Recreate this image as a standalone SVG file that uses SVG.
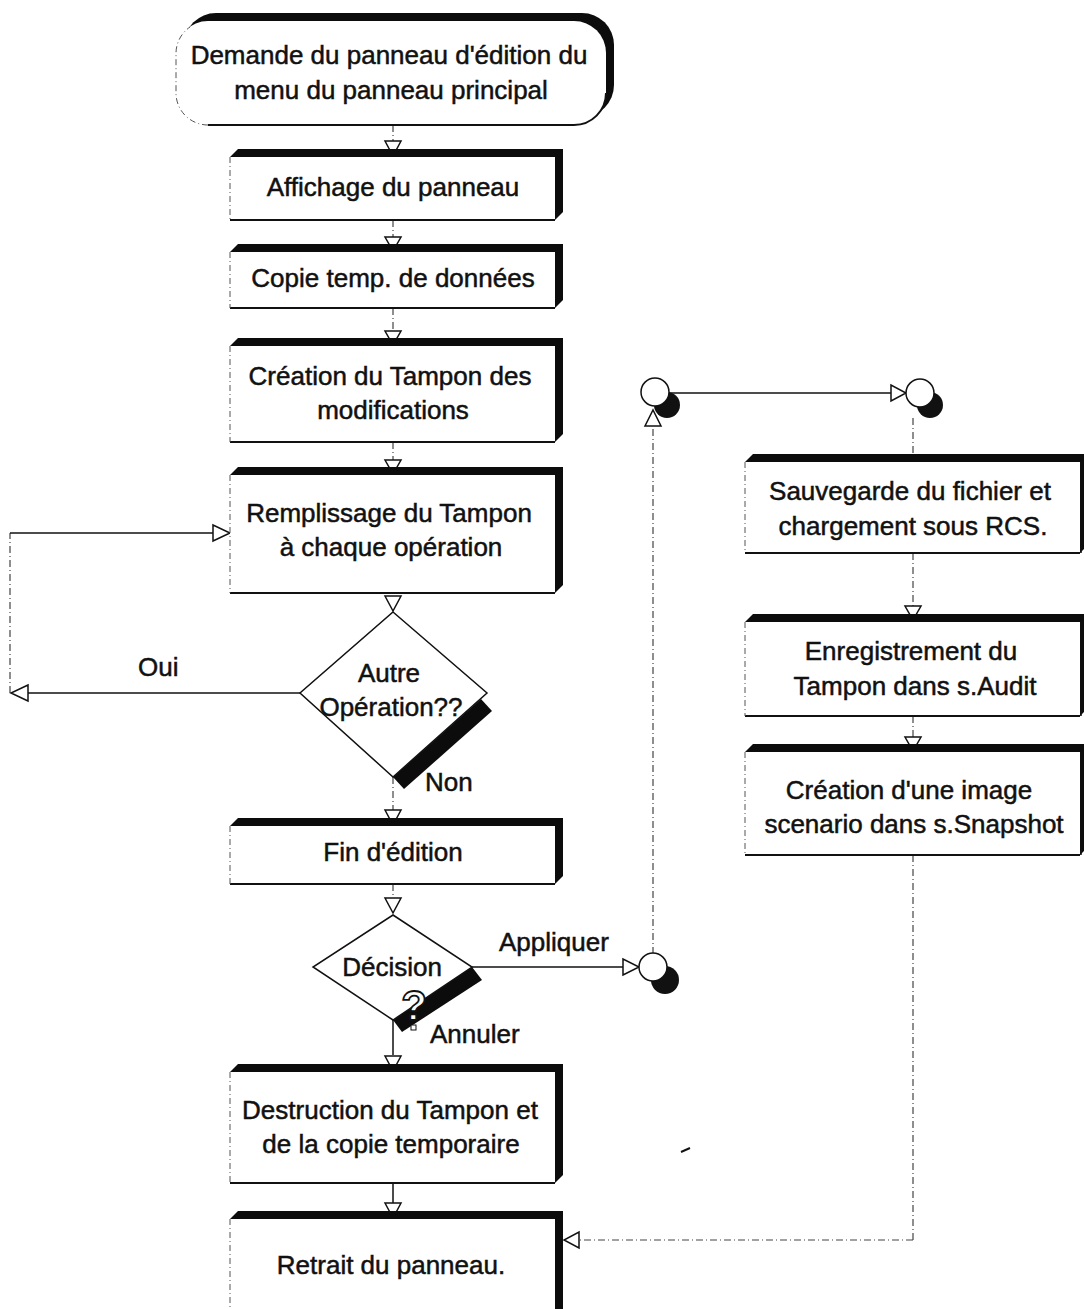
<svg xmlns="http://www.w3.org/2000/svg" width="1084" height="1309" viewBox="0 0 1084 1309">
<style>
.t{font-family:"Liberation Sans",Arial,sans-serif;font-size:26px;fill:#111;stroke:#111;stroke-width:0.5;text-anchor:middle}
.tl{font-family:"Liberation Sans",Arial,sans-serif;font-size:26px;fill:#111;stroke:#111;stroke-width:0.5}
.ext{fill:#0c0c0c}
.face{fill:#fff}
.bot{stroke:#111;stroke-width:2;fill:none}
.lft{stroke:#555;stroke-width:1;stroke-dasharray:6 3 1 3;fill:none}
.dash{stroke:#444;stroke-width:1.2;stroke-dasharray:7 3 1 3;fill:none}
.solid{stroke:#111;stroke-width:1.5;fill:none}
.ah{fill:#fff;stroke:#111;stroke-width:1.5;stroke-linejoin:miter}
</style>
<rect width="1084" height="1309" fill="#fff"/>

<g id="connectors">
  <line class="dash" x1="393" y1="125" x2="393" y2="142"/>
  <line class="dash" x1="393" y1="220" x2="393" y2="238"/>
  <line class="dash" x1="393" y1="308" x2="393" y2="332"/>
  <line class="dash" x1="393" y1="442" x2="393" y2="461"/>
  <line class="dash" x1="393" y1="777" x2="393" y2="810"/>
  <line class="dash" x1="393" y1="884" x2="393" y2="899"/>
  <line class="solid" x1="393" y1="1020" x2="393" y2="1055"/>
  <line class="solid" x1="393" y1="1183" x2="393" y2="1203"/>
  <line class="solid" x1="300" y1="693" x2="26" y2="693"/>
  <line class="dash" x1="10" y1="693" x2="10" y2="533"/>
  <line class="solid" x1="10" y1="533" x2="214" y2="533"/>
  <line class="solid" x1="472" y1="967" x2="624" y2="967"/>
  <line class="dash" x1="653" y1="954" x2="653" y2="426"/>
  <line class="solid" x1="669" y1="393" x2="892" y2="393"/>
  <line class="dash" x1="913" y1="418" x2="913" y2="455"/>
  <line class="dash" x1="913" y1="553" x2="913" y2="606"/>
  <line class="dash" x1="913" y1="716" x2="913" y2="737"/>
  <line class="dash" x1="913" y1="855" x2="913" y2="1240"/>
  <line class="dash" x1="913" y1="1240" x2="578" y2="1240"/>
  <polygon class="ah" points="385,141 401,141 393,156"/>
  <polygon class="ah" points="385,237 401,237 393,251"/>
  <polygon class="ah" points="385,331 401,331 393,345"/>
  <polygon class="ah" points="385,460 401,460 393,474"/>
  <polygon class="ah" points="385,596 401,596 393,611"/>
  <polygon class="ah" points="385,810 401,810 393,825"/>
  <polygon class="ah" points="385,898 401,898 393,913"/>
  <polygon class="ah" points="385,1056 401,1056 393,1071"/>
  <polygon class="ah" points="385,1203 401,1203 393,1218"/>
  <polygon class="ah" points="28,685 28,701 11,693"/>
  <polygon class="ah" points="213,525 213,541 230,533"/>
  <polygon class="ah" points="623,959 623,975 639,967"/>
  <polygon class="ah" points="645,426 661,426 653,410"/>
  <polygon class="ah" points="891,385 891,401 906,393"/>
  <polygon class="ah" points="892,455 892,470 912,462"/>
  <polygon class="ah" points="905,606 921,606 913,620"/>
  <polygon class="ah" points="905,737 921,737 913,751"/>
  <polygon class="ah" points="579,1232 579,1248 564,1240"/>
</g>

<g id="n-start">
  <rect x="184" y="13" width="430" height="104" rx="32" ry="32" class="ext"/>
  <rect x="176" y="21" width="430" height="104" rx="32" ry="32" class="face"/>
  <path d="M208 125 H574 A32 32 0 0 0 606 93" class="bot"/>
  <path d="M208 125 A32 32 0 0 1 176 93 V53 A32 32 0 0 1 190 27" class="lft"/>
  <text class="t" x="389" y="64">Demande du panneau d'édition du</text>
  <text class="t" x="391" y="99">menu du panneau principal</text>
</g>

<g id="n-affichage">
  <polygon class="ext" points="230,157 238,149 563,149 563,212 555,220 555,157"/>
  <rect class="face" x="230" y="157" width="325" height="63"/>
  <line class="bot" x1="230" y1="220" x2="555" y2="220"/>
  <line class="lft" x1="230" y1="157" x2="230" y2="220"/>
  <text class="t" x="393" y="196">Affichage du panneau</text>
</g>

<g id="n-copie">
  <polygon class="ext" points="230,252 238,244 563,244 563,300 555,308 555,252"/>
  <rect class="face" x="230" y="252" width="325" height="56"/>
  <line class="bot" x1="230" y1="308" x2="555" y2="308"/>
  <line class="lft" x1="230" y1="252" x2="230" y2="308"/>
  <text class="t" x="393" y="287">Copie temp. de données</text>
</g>

<g id="n-creation">
  <polygon class="ext" points="230,346 238,338 563,338 563,434 555,442 555,346"/>
  <rect class="face" x="230" y="346" width="325" height="96"/>
  <line class="bot" x1="230" y1="442" x2="555" y2="442"/>
  <line class="lft" x1="230" y1="346" x2="230" y2="442"/>
  <text class="t" x="390" y="385">Création du Tampon des</text>
  <text class="t" x="393" y="419">modifications</text>
</g>

<g id="n-remplissage">
  <polygon class="ext" points="230,475 238,467 563,467 563,585 555,593 555,475"/>
  <rect class="face" x="230" y="475" width="325" height="118"/>
  <line class="bot" x1="230" y1="593" x2="555" y2="593"/>
  <line class="lft" x1="230" y1="475" x2="230" y2="593"/>
  <text class="t" x="389" y="522">Remplissage du Tampon</text>
  <text class="t" x="391" y="556">à chaque opération</text>
</g>

<g id="n-autre">
  <polygon class="ext" points="481,699 492,711 404,789 393,777"/>
  <polygon points="393,612 487,693 393,777 300,693" fill="#fff" stroke="#111" stroke-width="1.5"/>
  <text class="t" x="389" y="682">Autre</text>
  <text class="t" x="391" y="716">Opération??</text>
  <text class="tl" x="138" y="676">Oui</text>
  <text class="tl" x="425" y="791">Non</text>
</g>

<g id="n-fin">
  <polygon class="ext" points="230,826 238,818 563,818 563,876 555,884 555,826"/>
  <rect class="face" x="230" y="826" width="325" height="58"/>
  <line class="bot" x1="230" y1="884" x2="555" y2="884"/>
  <line class="lft" x1="230" y1="826" x2="230" y2="884"/>
  <text class="t" x="393" y="861">Fin d'édition</text>
</g>

<g id="n-decision">
  <polygon class="ext" points="472,967 482,980 402,1032 393,1020"/>
  <polygon points="393,915 472,967 393,1020 313,967" fill="#fff" stroke="#111" stroke-width="1.5"/>
  <text class="t" x="392" y="976">Décision</text>
  <text x="414" y="1020" font-family="Liberation Sans,Arial,sans-serif" font-size="42" font-weight="bold" fill="#fff" stroke="#111" stroke-width="1.8" text-anchor="middle">?</text>
  <rect x="411" y="1025" width="5" height="5" fill="#fff" stroke="#111" stroke-width="1"/>
  <text class="tl" x="499" y="951">Appliquer</text>
  <text class="tl" x="430" y="1043">Annuler</text>
</g>

<g id="n-circle-a">
  <circle cx="665" cy="980" r="14" fill="#111"/>
  <circle cx="653" cy="967" r="14" fill="#fff" stroke="#111" stroke-width="1.5"/>
</g>
<g id="n-circle-b">
  <circle cx="667" cy="405" r="13" fill="#111"/>
  <circle cx="655" cy="392" r="14" fill="#fff" stroke="#111" stroke-width="1.5"/>
</g>
<g id="n-circle-c">
  <circle cx="930" cy="405" r="13" fill="#111"/>
  <circle cx="920" cy="393" r="14" fill="#fff" stroke="#111" stroke-width="1.5"/>
</g>

<g id="n-sauvegarde">
  <polygon class="ext" points="745,462 753,454 1088,454 1088,545 1080,553 1080,462"/>
  <rect class="face" x="745" y="462" width="335" height="91"/>
  <line class="bot" x1="745" y1="553" x2="1080" y2="553"/>
  <line class="lft" x1="745" y1="462" x2="745" y2="553"/>
  <line x1="1081" y1="462" x2="1081" y2="553" stroke="#111" stroke-width="1.5"/>
  <text class="t" x="910" y="500">Sauvegarde du fichier et</text>
  <text class="t" x="913" y="535">chargement sous RCS.</text>
</g>

<g id="n-enregistrement">
  <polygon class="ext" points="745,622 753,614 1088,614 1088,708 1080,716 1080,622"/>
  <rect class="face" x="745" y="622" width="335" height="94"/>
  <line class="bot" x1="745" y1="716" x2="1080" y2="716"/>
  <line class="lft" x1="745" y1="622" x2="745" y2="716"/>
  <line x1="1081" y1="622" x2="1081" y2="716" stroke="#111" stroke-width="1.5"/>
  <text class="t" x="911" y="660">Enregistrement du</text>
  <text class="t" x="915" y="695">Tampon dans s.Audit</text>
</g>

<g id="n-snapshot">
  <polygon class="ext" points="745,752 753,744 1088,744 1088,847 1080,855 1080,752"/>
  <rect class="face" x="745" y="752" width="335" height="103"/>
  <line class="bot" x1="745" y1="855" x2="1080" y2="855"/>
  <line class="lft" x1="745" y1="752" x2="745" y2="855"/>
  <line x1="1081" y1="752" x2="1081" y2="855" stroke="#111" stroke-width="1.5"/>
  <text class="t" x="909" y="799">Création d'une image</text>
  <text class="t" x="914" y="833">scenario dans s.Snapshot</text>
</g>

<g id="n-destruction">
  <polygon class="ext" points="230,1072 238,1064 563,1064 563,1175 555,1183 555,1072"/>
  <rect class="face" x="230" y="1072" width="325" height="111"/>
  <line class="bot" x1="230" y1="1183" x2="555" y2="1183"/>
  <line class="lft" x1="230" y1="1072" x2="230" y2="1183"/>
  <text class="t" x="390" y="1119">Destruction du Tampon et</text>
  <text class="t" x="391" y="1153">de la copie temporaire</text>
</g>

<g id="n-retrait">
  <polygon class="ext" points="230,1219 238,1211 563,1211 563,1320 555,1320 555,1219"/>
  <rect class="face" x="230" y="1219" width="325" height="100"/>
  <line class="lft" x1="230" y1="1219" x2="230" y2="1309"/>
  <text class="t" x="391" y="1274">Retrait du panneau.</text>
</g>

<line x1="681" y1="1152" x2="690" y2="1148" stroke="#111" stroke-width="2"/>
</svg>
